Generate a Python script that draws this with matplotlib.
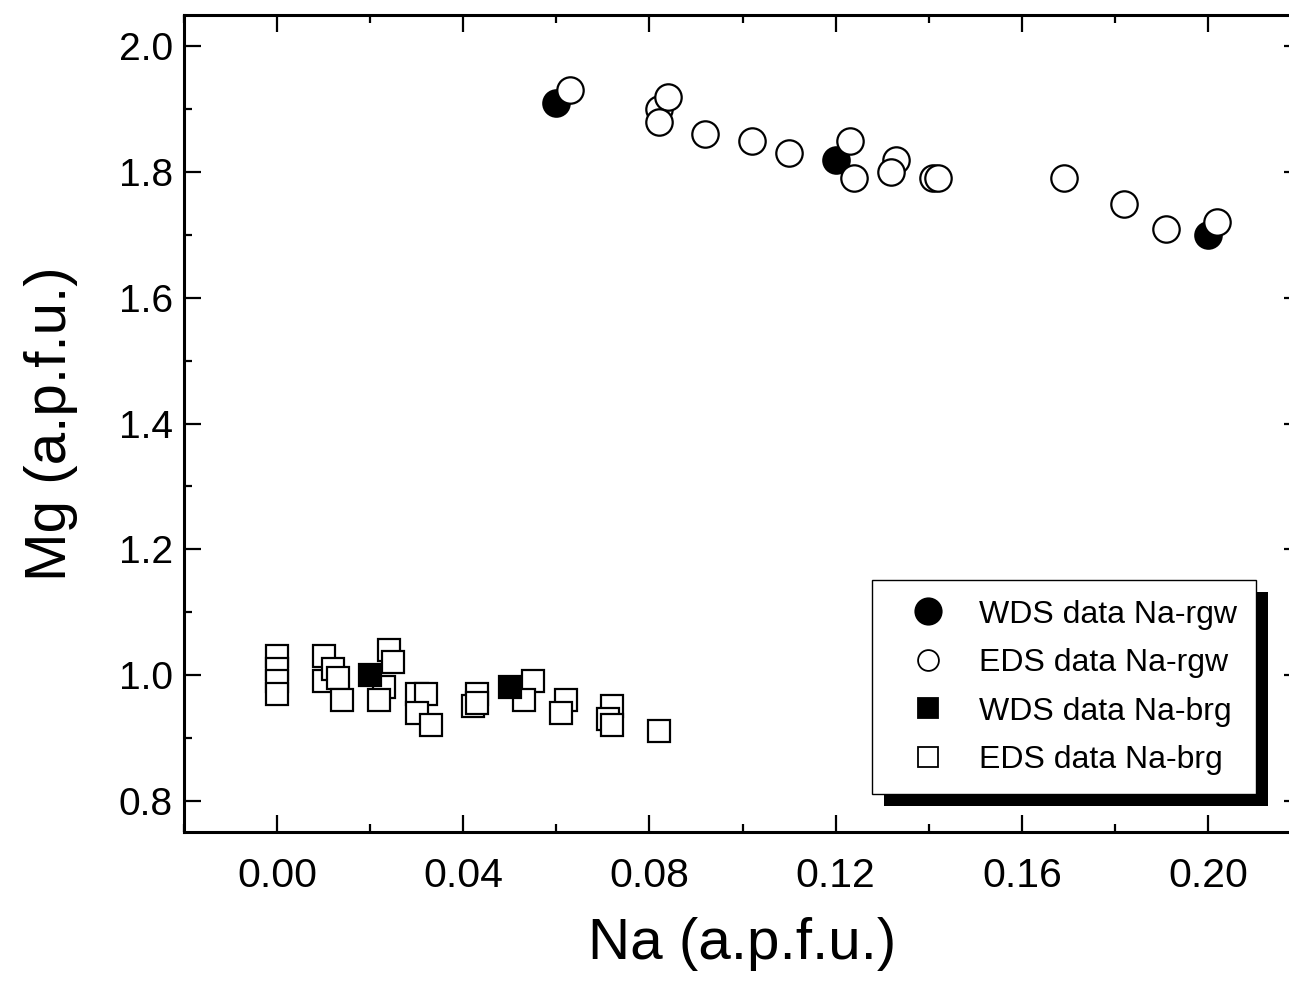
import numpy as np
import matplotlib
matplotlib.use("Agg")
import matplotlib.pyplot as plt
from matplotlib.patches import Rectangle
from matplotlib.ticker import MultipleLocator

plt.rcParams['font.family'] = ['Liberation Sans', 'DejaVu Sans']

# WDS / EDS data, Na-rgw (circles)
wds_rgw_na = [0.060, 0.120, 0.200]
wds_rgw_mg = [1.91, 1.82, 1.70]
eds_rgw_na = [0.063, 0.082, 0.084, 0.082, 0.092, 0.102, 0.110, 0.123, 0.124,
              0.133, 0.132, 0.141, 0.142, 0.169, 0.182, 0.191, 0.202]
eds_rgw_mg = [1.93, 1.90, 1.92, 1.88, 1.86, 1.85, 1.83, 1.85, 1.79,
              1.82, 1.80, 1.79, 1.79, 1.79, 1.75, 1.71, 1.72]

# WDS / EDS data, Na-brg (squares)
wds_brg_na = [0.020, 0.050]
wds_brg_mg = [1.00, 0.98]
eds_brg_na = [0.000, 0.000, 0.000, 0.000, 0.010, 0.010, 0.012, 0.013, 0.014,
              0.024, 0.025, 0.023, 0.022, 0.030, 0.032, 0.030, 0.033,
              0.043, 0.042, 0.043, 0.055, 0.053, 0.062, 0.061,
              0.072, 0.071, 0.072, 0.082]
eds_brg_mg = [1.03, 1.01, 0.99, 0.97, 1.03, 0.99, 1.01, 0.995, 0.96,
              1.04, 1.02, 0.98, 0.96, 0.97, 0.97, 0.94, 0.92,
              0.97, 0.95, 0.955, 0.99, 0.96, 0.96, 0.94,
              0.95, 0.93, 0.92, 0.91]

fig = plt.figure(figsize=(12.89, 9.86), dpi=100)
ax = fig.add_axes([184/1289, 1 - 832/986, (1301 - 184)/1289, (832 - 15)/986])

mew = 1.6
ax.plot(eds_brg_na, eds_brg_mg, 's', ms=16.5, mfc='white', mec='black', mew=mew,
        ls='none', label='EDS data Na-brg', zorder=3)
ax.plot(wds_brg_na, wds_brg_mg, 's', ms=16.5, mfc='black', mec='black', mew=mew,
        ls='none', label='WDS data Na-brg', zorder=3)
ax.plot(eds_rgw_na, eds_rgw_mg, 'o', ms=19, mfc='white', mec='black', mew=mew,
        ls='none', label='EDS data Na-rgw', zorder=3)
ax.plot(wds_rgw_na, wds_rgw_mg, 'o', ms=19, mfc='black', mec='black', mew=mew,
        ls='none', label='WDS data Na-rgw', zorder=2)

ax.set_xlim(-0.02, 0.22)
ax.set_ylim(0.75, 2.05)
ax.xaxis.set_major_locator(MultipleLocator(0.04))
ax.xaxis.set_minor_locator(MultipleLocator(0.02))
ax.yaxis.set_major_locator(MultipleLocator(0.2))
ax.yaxis.set_minor_locator(MultipleLocator(0.1))
ax.xaxis.set_major_formatter(matplotlib.ticker.FormatStrFormatter('%.2f'))
ax.yaxis.set_major_formatter(matplotlib.ticker.FormatStrFormatter('%.1f'))

ax.tick_params(which='both', direction='in', top=True, right=True, width=1.6)
ax.tick_params(which='major', length=12)
ax.tick_params(which='minor', length=6)
ax.tick_params(axis='x', pad=18, labelsize=29.5)
ax.tick_params(axis='y', pad=8, labelsize=28)
for s in ax.spines.values():
    s.set_linewidth(2.2)

ax.set_xlabel('Na (a.p.f.u.)', fontsize=42, labelpad=16)
ax.set_ylabel('Mg (a.p.f.u.)', fontsize=42, labelpad=29)

h, l = ax.get_legend_handles_labels()
order = [3, 2, 1, 0]
leg = ax.legend([h[i] for i in order], [l[i] for i in order],
                loc='upper left', bbox_to_anchor=(0.616, 0.308),
                borderaxespad=0, fontsize=23, markerscale=0.8,
                handlelength=2.3, handletextpad=0.45, labelspacing=0.58,
                borderpad=0.6, fancybox=False, framealpha=1, edgecolor='black')
leg.get_frame().set_linewidth(1.0)
# legend symbols: filled circle a bit larger than the open ones
for hd, ms in zip(leg.legend_handles, [19, 15, 15, 14]):
    hd.set_markersize(ms)
    hd.set_markeredgewidth(1.3)

fig.canvas.draw()
bb = leg.get_window_extent().transformed(ax.transAxes.inverted())
dx = 12 / (1301 - 184)
dy = 12 / (832 - 15)
ax.add_patch(Rectangle((bb.x0 + dx, bb.y0 - dy), bb.width, bb.height,
                       transform=ax.transAxes, facecolor='black',
                       edgecolor='none', zorder=4, clip_on=False))

fig.savefig('out.png', dpi=100)
